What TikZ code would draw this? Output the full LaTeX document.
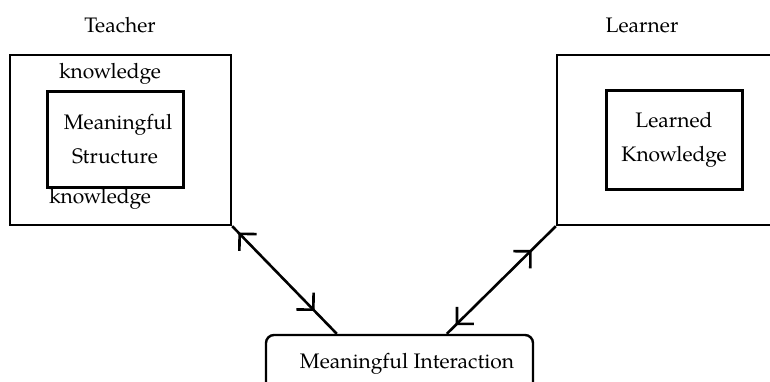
\documentclass[tikz,border=0pt]{standalone}
\usepackage{fontspec}
\setmainfont{TeX Gyre Pagella}
\usetikzlibrary{arrows.meta,decorations.markings,calc}
\begin{document}
\begin{tikzpicture}[x=0.5pt,y=-0.5pt,
  every node/.style={font=\fontsize{10.5}{17}\selectfont},
  txt/.style={inner sep=0pt},
  outerbox/.style={draw,line width=1.2pt,inner sep=0pt},
  innerbox/.style={draw,line width=1.5pt,inner sep=0pt,align=center,minimum width=68pt},
  link/.style={line width=1.3pt,postaction={decorate}}
]
\clip (0,0) rectangle (770,381);
\fill[white] (0,0) rectangle (770,381);
% Teacher
\node[txt] (tlabel) at (120,25) {Teacher};
\node[outerbox,minimum width=110.5pt,minimum height=85pt] (teacher) at (120.5,140) {};
\node[txt] (k1) at (110,74) {knowledge};
\node[txt] (k2) at (100,199) {knowledge};
\node[innerbox,minimum height=48pt] (ms) at (115,139) {\hspace*{3pt}Meaningful\\Structure};
% Learner
\node[txt] (llabel) at (642,25) {Learner};
\node[outerbox,minimum width=121.5pt,minimum height=85pt] (learner) at (678.5,140) {};
\node[innerbox,minimum height=49.5pt] (lk) at (674,139.5) {Learned\\Knowledge};
% Interaction
\node[outerbox,rounded corners=4pt,minimum width=133.5pt,minimum height=37.5pt] (inter) at (399.5,372.5) {};
\node[txt] (itext) at (407,364) {Meaningful Interaction};
\coordinate (la) at ($(inter.north west)+(72,0)$);
\coordinate (ra) at ($(inter.north west)+(182,0)$);
% connectors
\draw[link,decoration={markings,
   mark=at position 0.16 with {\arrow{Straight Barb[length=6pt,width=12pt,line width=1.3pt,reversed]}},
   mark=at position 0.79 with {\arrow{Straight Barb[length=6pt,width=12pt,line width=1.3pt]}}}]
  (teacher.south east) -- (la);
\draw[link,decoration={markings,
   mark=at position 0.18 with {\arrow{Straight Barb[length=6pt,width=12pt,line width=1.3pt,reversed]}},
   mark=at position 0.78 with {\arrow{Straight Barb[length=6pt,width=12pt,line width=1.3pt]}}}]
  (ra) -- (learner.south west);
\end{tikzpicture}
\end{document}
